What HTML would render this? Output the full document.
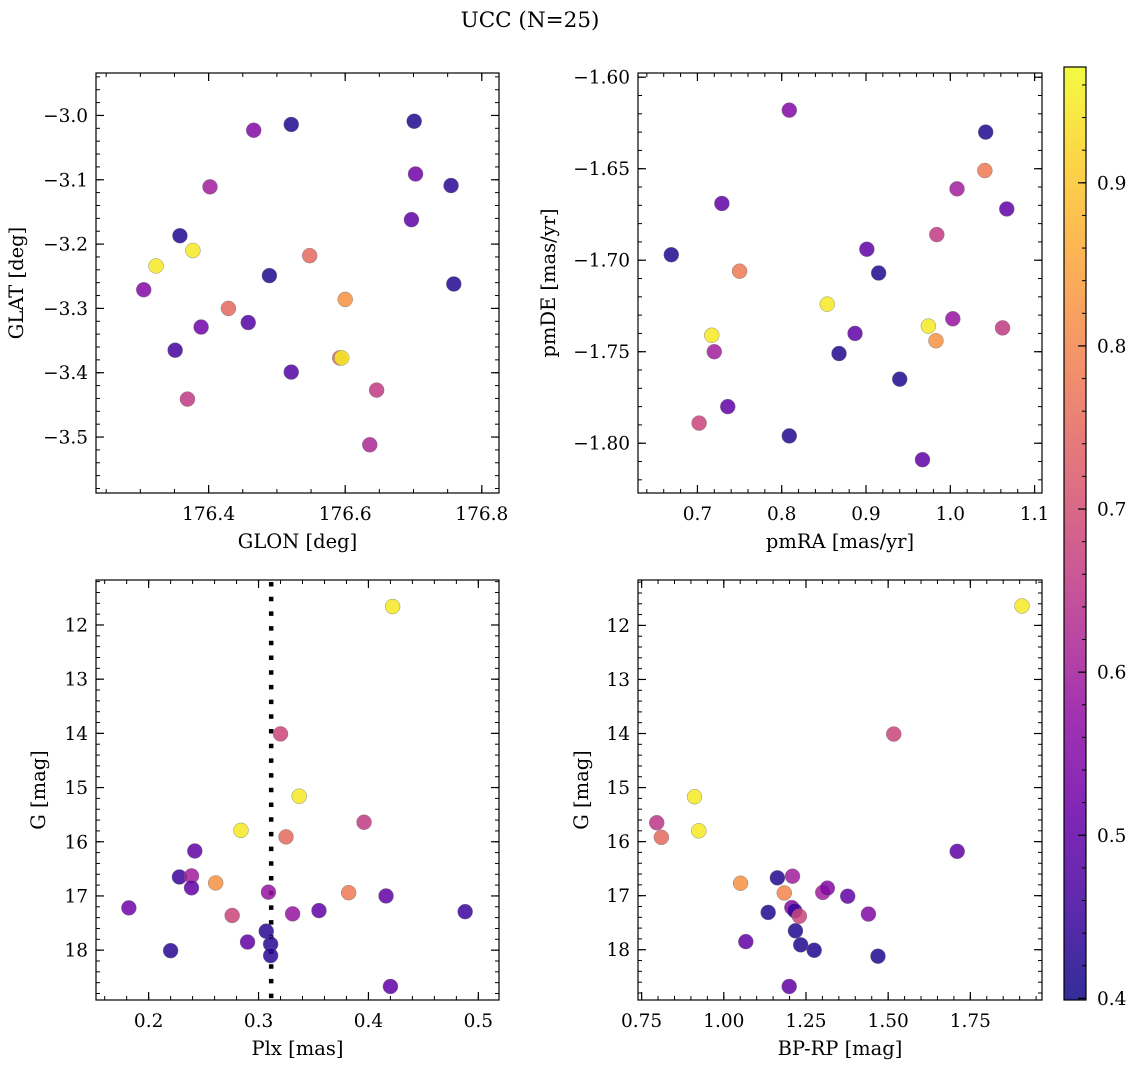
<!DOCTYPE html>
<html><head><meta charset="utf-8"><style>
html,body{margin:0;padding:0;background:#fff;}
svg{display:block;font-family:"DejaVu Serif","Liberation Serif",serif;}
</style></head><body>
<svg id="chart" width="1136" height="1067" viewBox="0 0 1136 1067" xmlns="http://www.w3.org/2000/svg">
<text x="530" y="27" font-size="21.5" text-anchor="middle">UCC (N=25)</text>
</svg>
<script>
// Panel 1: GLON vs GLAT
const glon=[176.466,176.521,176.701,176.703,176.755,176.402,176.697,176.358,176.377,176.323,176.548,176.489,176.305,176.600,176.759,176.429,176.458,176.389,176.351,176.521,176.592,176.595,176.646,176.369,176.636];
const glat=[-3.023,-3.014,-3.009,-3.091,-3.109,-3.111,-3.162,-3.187,-3.210,-3.234,-3.218,-3.249,-3.271,-3.286,-3.262,-3.300,-3.322,-3.329,-3.365,-3.399,-3.377,-3.377,-3.427,-3.441,-3.512];
const prob1=[0.55,0.42,0.42,0.52,0.43,0.60,0.50,0.42,0.95,0.95,0.75,0.42,0.55,0.82,0.42,0.75,0.48,0.52,0.46,0.48,0.75,0.95,0.66,0.66,0.62];
// Panel 2: pmRA vs pmDE
const pmra=[0.809,1.042,1.041,1.008,1.067,0.729,0.984,0.669,0.901,0.915,0.750,0.854,0.974,1.003,1.062,0.983,0.717,0.720,0.887,0.868,0.940,0.736,0.702,0.809,0.967];
const pmde=[-1.618,-1.630,-1.651,-1.661,-1.672,-1.669,-1.686,-1.697,-1.694,-1.707,-1.706,-1.724,-1.736,-1.732,-1.737,-1.744,-1.741,-1.750,-1.740,-1.751,-1.765,-1.780,-1.789,-1.796,-1.809];
const prob2=[0.55,0.42,0.78,0.60,0.50,0.50,0.66,0.42,0.50,0.42,0.78,0.95,0.95,0.58,0.66,0.82,0.95,0.60,0.50,0.42,0.42,0.50,0.68,0.42,0.50];
// Panel 3: Plx vs G
const plx=[0.422,0.320,0.337,0.284,0.325,0.396,0.242,0.228,0.239,0.239,0.261,0.309,0.382,0.182,0.276,0.331,0.355,0.416,0.488,0.220,0.290,0.307,0.311,0.311,0.420];
const gmag3=[11.66,14.01,15.16,15.79,15.91,15.64,16.17,16.65,16.63,16.85,16.76,16.93,16.94,17.22,17.36,17.33,17.27,17.00,17.29,18.01,17.85,17.65,17.89,18.10,18.67];
const prob3=[0.95,0.68,0.95,0.95,0.75,0.66,0.50,0.45,0.60,0.50,0.82,0.58,0.78,0.52,0.68,0.58,0.50,0.50,0.45,0.43,0.50,0.43,0.43,0.43,0.50];
const plxMedian=0.3115;
// Panel 4: BP-RP vs G
const bprp=[1.907,1.517,0.911,0.796,0.810,0.924,1.710,1.051,1.163,1.209,1.184,1.301,1.315,1.377,1.440,1.135,1.207,1.216,1.230,1.218,1.234,1.275,1.469,1.067,1.199];
const gmag4=[11.64,14.01,15.17,15.65,15.92,15.80,16.18,16.77,16.67,16.64,16.95,16.94,16.86,17.01,17.34,17.31,17.22,17.28,17.38,17.65,17.91,18.01,18.12,17.85,18.68];
const prob4=[0.95,0.68,0.95,0.65,0.75,0.95,0.50,0.82,0.42,0.60,0.80,0.60,0.55,0.50,0.55,0.42,0.55,0.45,0.68,0.42,0.42,0.42,0.42,0.50,0.50];
// Tick labels
const p1xTicks=[176.4,176.6,176.8];
const p1yTicks=[-3.0,-3.1,-3.2,-3.3,-3.4,-3.5];
const p2xTicks=[0.7,0.8,0.9,1.0,1.1];
const p2yTicks=[-1.60,-1.65,-1.70,-1.75,-1.80];
const p3xTicks=[0.2,0.3,0.4,0.5];
const gTicks=[12,13,14,15,16,17,18];
const p4xTicks=[0.75,1.00,1.25,1.50,1.75];
const cbTicks=[0.4,0.5,0.6,0.7,0.8,0.9];
const vmin=0.399, vmax=0.971;

const NS="http://www.w3.org/2000/svg";
const svg=document.getElementById('chart');
const TF=18.5, LF=19.5;
function mk(tag,attrs,parent){const e=document.createElementNS(NS,tag);for(const k in attrs)e.setAttribute(k,attrs[k]);(parent||svg).appendChild(e);return e;}
const plasma=[[13,8,135],[65,4,157],[106,0,168],[143,13,164],[177,42,144],[204,71,120],[225,100,98],[242,132,75],[252,166,54],[252,206,37],[240,249,33]];
function cmap(t){t=Math.max(0,Math.min(1,t));const f=t*10;const i=Math.min(9,Math.floor(f));const r=f-i;const a=plasma[i],b=plasma[i+1];
 return 'rgb('+[0,1,2].map(k=>Math.round(a[k]+(b[k]-a[k])*r)).join(',')+')';}
function colorOf(v){return cmap((v-vmin)/(vmax-vmin));}
function fmt(v,d){const s=Math.abs(v).toFixed(d);return (v<0?'\u2212':'')+s;}

function panel(o){
 const g=mk('g',{});  
 const sx=v=>o.L+(v-o.x0)/(o.x1-o.x0)*(o.R-o.L);
 const sy=v=>o.T+(v-o.y0)/(o.y1-o.y0)*(o.B-o.T);
 if(o.vline!==undefined){const l=mk('line',{x1:sx(o.vline),x2:sx(o.vline),y1:o.T,y2:o.B,stroke:'#000','stroke-width':4.5,'stroke-dasharray':'4.5 10.2','stroke-dashoffset':-2},g);
  }
 for(let i=0;i<o.xs.length;i++){
  const c=mk('circle',{cx:sx(o.xs[i]),cy:sy(o.ys[i]),r:7.5,fill:colorOf(o.cs[i]),'fill-opacity':0.85,stroke:'#777','stroke-width':0.4},g);
  
  
 }
 mk('rect',{x:o.L,y:o.T,width:o.R-o.L,height:o.B-o.T,fill:'none',stroke:'#000','stroke-width':1.2},g);
 const lo=Math.min(o.x0,o.x1),hi=Math.max(o.x0,o.x1);
 for(let v=Math.ceil(lo/o.xm-1e-6)*o.xm;v<=hi+1e-9;v+=o.xm){const X=sx(v);
  mk('line',{x1:X,x2:X,y1:o.B,y2:o.B-4,stroke:'#000','stroke-width':1},g);mk('line',{x1:X,x2:X,y1:o.T,y2:o.T+4,stroke:'#000','stroke-width':1},g);}
 const ylo=Math.min(o.y0,o.y1),yhi=Math.max(o.y0,o.y1);
 for(let v=Math.ceil(ylo/o.ym-1e-6)*o.ym;v<=yhi+1e-9;v+=o.ym){const Y=sy(v);
  mk('line',{x1:o.L,x2:o.L+4,y1:Y,y2:Y,stroke:'#000','stroke-width':1},g);mk('line',{x1:o.R,x2:o.R-4,y1:Y,y2:Y,stroke:'#000','stroke-width':1},g);}
 o.xt.forEach(v=>{const X=sx(v);
  mk('line',{x1:X,x2:X,y1:o.B,y2:o.B-8,stroke:'#000','stroke-width':1.2},g);mk('line',{x1:X,x2:X,y1:o.T,y2:o.T+8,stroke:'#000','stroke-width':1.2},g);
  const t=mk('text',{x:X,y:o.B+27,'font-size':TF,'text-anchor':'middle'},g);t.textContent=fmt(v,o.xd);
  });
 o.yt.forEach(v=>{const Y=sy(v);
  mk('line',{x1:o.L,x2:o.L+8,y1:Y,y2:Y,stroke:'#000','stroke-width':1.2},g);mk('line',{x1:o.R,x2:o.R-8,y1:Y,y2:Y,stroke:'#000','stroke-width':1.2},g);
  const t=mk('text',{x:o.L-8,y:Y+6.5,'font-size':TF,'text-anchor':'end'},g);t.textContent=fmt(v,o.yd);
  });
 const xl=mk('text',{x:(o.L+o.R)/2,y:o.B+55,'font-size':LF,'text-anchor':'middle'},g);xl.textContent=o.xlab;
 
 const cy=(o.T+o.B)/2;
 const yl=mk('text',{x:o.ylx,y:cy,'font-size':LF,'text-anchor':'middle',transform:'rotate(-90 '+o.ylx+' '+cy+')'},g);yl.textContent=o.ylab;
 
}
panel({name:'glon-glat-panel',L:96,R:499,T:73,B:493,x0:176.2351,x1:176.8252,y0:-2.934,y1:-3.587,xs:glon,ys:glat,cs:prob1,xt:p1xTicks,yt:p1yTicks,xd:1,yd:1,xm:0.05,ym:0.02,xlab:'GLON [deg]',ylab:'GLAT [deg]',ylx:23});
panel({name:'pm-panel',L:638,R:1042,T:73,B:493,x0:0.6295,x1:1.1088,y0:-1.5977,y1:-1.8272,xs:pmra,ys:pmde,cs:prob2,xt:p2xTicks,yt:p2yTicks,xd:1,yd:2,xm:0.02,ym:0.01,xlab:'pmRA [mas/yr]',ylab:'pmDE [mas/yr]',ylx:555});
panel({name:'plx-g-panel',L:96,R:499,T:580,B:1000,x0:0.1521,x1:0.5188,y0:11.17,y1:18.92,xs:plx,ys:gmag3,cs:prob3,xt:p3xTicks,yt:gTicks,xd:1,yd:0,xm:0.02,ym:0.2,xlab:'Plx [mas]',ylab:'G [mag]',ylx:45,vline:plxMedian});
panel({name:'cmd-panel',L:638,R:1042,T:580,B:1000,x0:0.739,x1:1.968,y0:11.16,y1:18.93,xs:bprp,ys:gmag4,cs:prob4,xt:p4xTicks,yt:gTicks,xd:2,yd:0,xm:0.05,ym:0.2,xlab:'BP-RP [mag]',ylab:'G [mag]',ylx:588});

(function(){
 const L=1064,R=1086,T=67,B=1000;
 const g=mk('g',{});
 const defs=mk('defs',{},g);const lg=mk('linearGradient',{id:'cbg',x1:0,y1:1,x2:0,y2:0},defs);
 for(let i=0;i<=20;i++){mk('stop',{offset:i/20,'stop-color':cmap(i/20),'stop-opacity':0.85},lg);}
 mk('rect',{x:L,y:T,width:R-L,height:B-T,fill:'url(#cbg)'},g);
 mk('rect',{x:L,y:T,width:R-L,height:B-T,fill:'none',stroke:'#000','stroke-width':1.2},g);
 const sy=v=>B-(v-vmin)/(vmax-vmin)*(B-T);
 for(let v=0.40;v<=vmax;v+=0.02){const Y=sy(v);mk('line',{x1:R,x2:R-4,y1:Y,y2:Y,stroke:'#000','stroke-width':1},g);}
 cbTicks.forEach(v=>{const Y=sy(v);mk('line',{x1:R,x2:R-8,y1:Y,y2:Y,stroke:'#000','stroke-width':1.2},g);
  const t=mk('text',{x:R+11,y:Y+6.5,'font-size':TF},g);t.textContent=v.toFixed(1);
  });
})();
</script>
</body></html>
